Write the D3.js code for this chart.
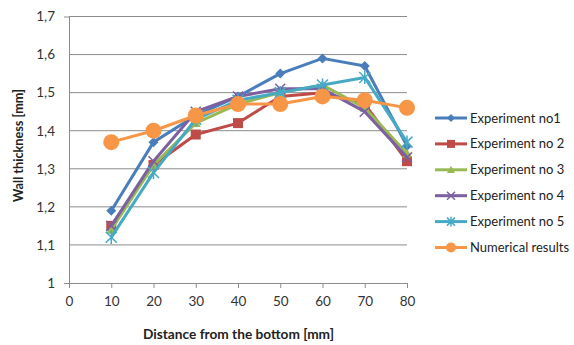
<!DOCTYPE html>
<html><head><meta charset="utf-8">
<script src="https://cdn.jsdelivr.net/npm/d3@7"></script>
<style>body{margin:0;background:#fff}svg{display:block}text{font-family:Lato,"Open Sans",sans-serif}</style>
</head><body>
<svg id="c" width="574" height="345"></svg>
<script>
const distances = [10, 20, 30, 40, 50, 60, 70, 80];
const exp1 = [1.19, 1.37, 1.44, 1.49, 1.55, 1.59, 1.57, 1.36];
const exp2 = [1.15, 1.31, 1.39, 1.42, 1.49, 1.50, 1.47, 1.32];
const exp3 = [1.14, 1.31, 1.42, 1.47, 1.50, 1.52, 1.46, 1.34];
const exp4 = [1.15, 1.32, 1.45, 1.49, 1.51, 1.51, 1.45, 1.33];
const exp5 = [1.12, 1.29, 1.43, 1.48, 1.50, 1.52, 1.54, 1.37];
const numerical = [1.37, 1.40, 1.44, 1.47, 1.47, 1.49, 1.48, 1.46];
const seriesNames = ["Experiment no1", "Experiment no 2", "Experiment no 3", "Experiment no 4", "Experiment no 5", "Numerical results"];
const xTicks = [0, 10, 20, 30, 40, 50, 60, 70, 80];
const yTicks = [1, 1.1, 1.2, 1.3, 1.4, 1.5, 1.6, 1.7];

const colors = ["#4A7EBB", "#BE4B48", "#98B954", "#7D60A0", "#46AAC5", "#F79646"];
const markers = ["diamond", "square", "triangle", "x", "star", "circle"];
const series = [exp1, exp2, exp3, exp4, exp5, numerical];

const svg = d3.select("#c");
const x = d3.scaleLinear().domain([0, 80]).range([69, 407]);
const y = d3.scaleLinear().domain([1, 1.7]).range([283, 16.5]);

// gridlines
svg.append("g").selectAll("line").data(yTicks.slice(1)).join("line")
  .attr("x1", 69).attr("x2", 407).attr("y1", d => y(d)).attr("y2", d => y(d))
  .attr("stroke", "#8c8c8c").attr("stroke-width", 1);

// axes
const fmt = d => String(d).replace(".", ",");
const xa = svg.append("g").attr("transform", "translate(0,283)")
  .call(d3.axisBottom(x).tickValues(xTicks).tickSize(5).tickPadding(8).tickFormat(d => d));
const ya = svg.append("g").attr("transform", "translate(69,0)")
  .call(d3.axisLeft(y).tickValues(yTicks).tickSize(5).tickPadding(9).tickFormat(fmt));
[xa, ya].forEach(a => {
  a.select(".domain").attr("stroke", "#8c8c8c");
  a.selectAll(".tick line").attr("stroke", "#8c8c8c");
  a.selectAll("text").attr("font-size", 13.5).attr("fill", "#333");
});
ya.selectAll(".tick line").remove();

function markerPath(type, size) {
  const s = size;
  switch (type) {
    case "diamond": return `M0,${-s}L${s},0L0,${s}L${-s},0Z`;
    case "square": return `M${-s},${-s}H${s}V${s}H${-s}Z`;
    case "triangle": return `M0,${-s}L${s},${s*0.8}L${-s},${s*0.8}Z`;
    case "x": return `M${-s},${-s}L${s},${s}M${-s},${s}L${s},${-s}`;
    case "star": return `M${-s},${-s}L${s},${s}M${-s},${s}L${s},${-s}M0,${-s*1.2}V${s*1.2}`;
    case "circle": return d3.symbol(d3.symbolCircle, Math.PI * s * s)();
  }
}
const msize = [5, 5, 5, 5, 5.5, 8];

const line = d3.line().x((d, i) => x(distances[i])).y(d => y(d));
series.forEach((vals, k) => {
  const g = svg.append("g");
  g.append("path").datum(vals).attr("d", line).attr("fill", "none")
    .attr("stroke", colors[k]).attr("stroke-width", 3).attr("stroke-linejoin", "round");
  const open = markers[k] === "x" || markers[k] === "star";
  g.selectAll("path.m").data(vals).join("path").attr("class", "m")
    .attr("transform", (d, i) => `translate(${x(distances[i])},${y(d)})`)
    .attr("d", markerPath(markers[k], msize[k]))
    .attr("fill", open ? "none" : colors[k])
    .attr("stroke", colors[k]).attr("stroke-width", open ? 1.5 : 0);
});

// legend
const lg = svg.append("g");
seriesNames.forEach((name, k) => {
  const ly = 118 + k * 25.9;
  lg.append("line").attr("x1", 435).attr("x2", 467).attr("y1", ly).attr("y2", ly)
    .attr("stroke", colors[k]).attr("stroke-width", 3);
  const open = markers[k] === "x" || markers[k] === "star";
  lg.append("path").attr("transform", `translate(451,${ly})`)
    .attr("d", markerPath(markers[k], k === 5 ? 5 : 4))
    .attr("fill", open ? "none" : colors[k])
    .attr("stroke", colors[k]).attr("stroke-width", open ? 1.5 : 0);
  lg.append("text").attr("x", 470).attr("y", ly + 4.5).attr("font-size", 13)
    .attr("fill", "#222").text(name);
});

// axis titles
svg.append("text").attr("x", 238.5).attr("y", 339).attr("text-anchor", "middle")
  .attr("font-size", 13.5).attr("font-weight", "bold").attr("fill", "#222")
  .attr("textLength", 191).attr("lengthAdjust", "spacingAndGlyphs")
  .text("Distance  from the bottom [mm]");
svg.append("text").attr("transform", "translate(23,145.5) rotate(-90)").attr("text-anchor", "middle")
  .attr("font-size", 13).attr("font-weight", "bold").attr("fill", "#222")
  .attr("textLength", 113).attr("lengthAdjust", "spacingAndGlyphs")
  .text("Wall thickness  [mm]");
</script>
</body></html>
